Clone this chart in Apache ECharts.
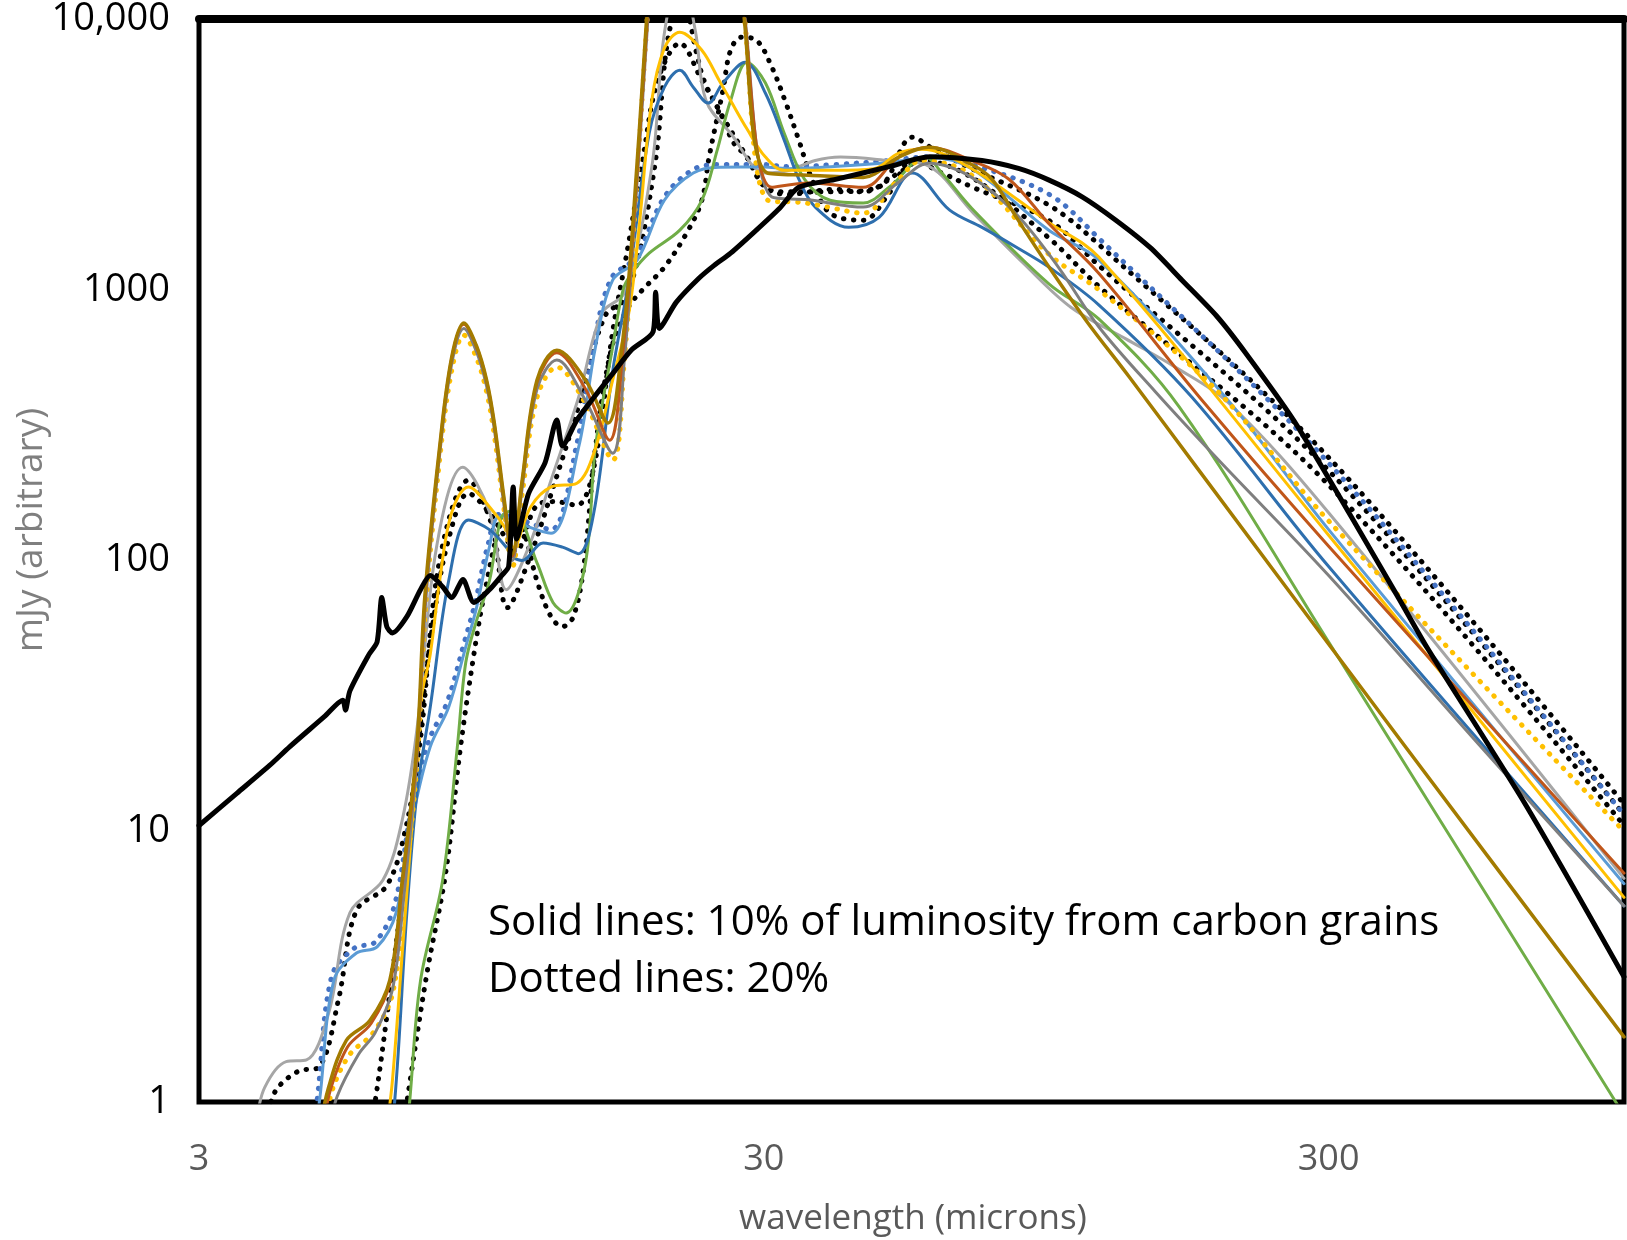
<!DOCTYPE html>
<html>
<head>
<meta charset="utf-8">
<title>Carbon grain SEDs</title>
<script src="https://cdn.jsdelivr.net/npm/echarts@6/dist/echarts.min.js"></script>
<style>
  html, body { margin: 0; padding: 0; background: #fff; }
  #chart { width: 1627px; height: 1240px; }
</style>
</head>
<body>
<div id="chart"></div>
<script>
// wavelength (microns) vs mJy
const xTickLabels = [3.0001, 30, 300];
const yTickLabels = ['1', '10', '100', '1000', '10,000'];

const blackSolid = [[3,10.5],[3.5,13.8],[4,17.5],[4.34,20.5],[5,26.5],[5.39,30.5],[5.45,28],[5.55,33],[6.0,45],[6.2,50],[6.32,73],[6.45,57],[6.6,54],[7.0,62],[7.4,78],[7.7,88],[8.1,80],[8.4,73],[8.8,85],[9.2,70],[9.8,78],[10.3,88],[10.6,95],[10.8,187],[10.95,120],[11.5,177],[12.3,230],[12.9,330],[13.2,265],[14,330],[15,400],[16.2,490],[17.5,600],[19.1,700],[19.3,980],[19.6,720],[21,900],[23,1100],[24.5,1230],[26.2,1365],[29,1650],[32,2000],[34.6,2390],[40,2550],[50,2850],[59,3100],[73,3000],[85,2800],[96,2540],[110,2200],[126,1807],[145,1430],[165,1085],[190,800],[214,583],[260,330],[329,145],[400,72],[450,47],[670,12.5],[1000,2.9]];

const oliveSolid = [[4.92,0.8],[5.08,1.12],[5.47,1.69],[6.02,2.0],[6.53,2.82],[6.87,6.6],[7.29,20.5],[7.53,73],[8.0,262],[8.4,560],[8.83,753],[9.3,620],[9.69,464],[10.0,322],[10.4,171],[10.77,106],[11.2,198],[11.9,464],[12.9,598],[14.5,464],[15.9,322],[16.8,600],[17.5,1500],[18.6,10000],[19.5,40000],[26.5,40000],[27.7,10000],[30.4,2700],[36,2650],[45,2600],[52,3090],[58.8,3360],[70,2900],[76,2560],[84,1850],[96,1211],[112,762],[133,477],[176,218],[400,22],[1000,1.74]];

const darkGraySolid = [[5.12,0.8],[5.27,1.05],[5.75,1.5],[6.15,1.8],[6.6,2.6],[6.9,5.5],[7.3,19],[7.55,68],[8.0,245],[8.4,530],[8.83,720],[9.3,590],[9.69,440],[10.0,305],[10.4,160],[10.77,100],[11.2,185],[11.9,430],[12.9,550],[14.5,390],[16.2,249],[17.0,560],[17.6,1500],[18.7,10000],[19.5,40000],[26.5,40000],[27.8,10000],[31,2200],[36,2150],[45,2020],[52,2500],[58.8,2930],[70,2600],[84,1900],[100,1200],[117.5,730],[148,420],[191.5,235],[300,88],[558,20.5],[1000,5.3]];

const brownSolid = [[4.98,0.8],[5.12,1.1],[5.5,1.6],[6.05,1.95],[6.55,2.8],[6.88,6.5],[7.3,20],[7.54,72],[8.0,258],[8.4,555],[8.83,745],[9.3,615],[9.69,460],[10.0,318],[10.4,168],[10.77,104],[11.2,195],[11.9,455],[12.9,585],[14.5,430],[16.0,278],[16.9,600],[17.55,1500],[18.65,10000],[19.5,40000],[26.5,40000],[27.75,10000],[31,2390],[36,2480],[45,2390],[52,3090],[58.8,3360],[70,3000],[81.5,2560],[96,1750],[117.5,1150],[179,391],[300,113],[1000,7.0]];

const yellowDotted = [[5.02,0.8],[5.16,1.1],[5.55,1.5],[6.1,1.8],[6.6,2.5],[6.9,5.5],[7.3,18],[7.55,65],[8.0,235],[8.4,500],[8.83,680],[9.3,560],[9.69,420],[10.0,290],[10.4,155],[10.77,95],[11.2,175],[11.9,400],[12.9,518],[14.5,380],[16.2,235],[17.0,560],[17.6,1500],[18.65,10000],[19.5,40000],[26.5,40000],[27.75,10000],[30.5,2140],[35,2100],[39,2018],[45,1918],[52,2560],[57,3000],[70,2650],[96,1350],[117.5,1000],[189,430],[300,140],[1000,10]];

const lightGraySolid = [[3.8,0.85],[3.92,1.13],[4.28,1.41],[4.65,1.43],[5.09,2.13],[5.55,5.0],[6.35,6.6],[6.87,11],[7.29,23.6],[7.9,112],[8.79,221],[9.82,150],[10.5,78],[11.5,112],[12.6,198],[14.1,401],[15.5,820],[17,977],[19,2837],[20,8870],[21.4,15000],[22.7,9000],[23.7,5000],[26.2,3786],[30.2,2700],[33,2750],[37,3000],[41,3090],[50,3000],[58,2900],[70.5,1918],[86.5,1250],[105,860],[131,660],[160,520],[200,380],[300,150],[1000,6.7]];

const yellowSolid = [[6.45,0.8],[6.6,1.2],[6.9,4],[7.2,13],[7.4,30],[7.7,45],[8.0,84],[8.4,150],[9.0,187],[9.8,158],[10.5,130],[10.8,112],[11.6,158],[12.6,187],[14,193],[15,249],[16.2,464],[17.3,820],[18,1620],[19,5000],[20,7800],[21.3,8940],[23.3,7670],[25,5940],[26.2,5000],[28,3930],[30.2,3090],[32.6,2760],[40,2760],[47,2800],[52,3195],[57,3300],[70,2800],[96,1770],[117.5,1320],[300,124],[1000,5.7]];

const darkBlueSolid = [[6.5,0.8],[6.66,1.0],[7.0,5],[7.3,14],[7.7,28.7],[8.3,84],[9.0,141],[9.8,130],[10.5,112],[10.8,103],[11.2,100],[12.2,116],[13.2,112],[14.1,106],[15,150],[16.2,500],[17.3,1085],[18.8,3786],[20,5600],[21.3,6470],[22.5,5600],[23.9,4890],[25.4,5800],[27.8,6920],[30.2,5320],[32.6,3570],[34.6,2560],[37,2018],[42.4,1700],[48,1850],[55,2700],[64,1968],[73,1700],[84,1436],[96,1211],[117.5,880],[172,400],[300,95],[1000,5.3]];

const lightBlueSolid = [[4.8,0.8],[4.9,1.0],[5.2,2.82],[5.7,3.55],[6.2,3.74],[6.7,5.0],[7.2,11.7],[7.7,20.5],[8.3,28.7],[8.9,48],[9.3,67],[9.8,112],[10.2,145],[11.0,140],[11.5,133],[12.6,126],[14.1,262],[15.1,614],[16.2,1085],[17.9,1285],[20,2140],[22.5,2700],[25,2837],[30,2840],[33,2800],[40,2850],[50,2950],[59,3080],[70,2800],[96,1655],[117.5,1290],[199,391],[300,130],[1000,6.4]];

const blueDotted = [[4.75,0.8],[4.85,1.0],[5.15,2.9],[5.65,3.7],[6.15,3.9],[6.65,5.3],[7.15,12.5],[7.65,21.5],[8.25,30],[8.85,50],[9.25,70],[9.75,115],[10.2,148],[11.0,143],[11.5,138],[12.6,130],[14.0,270],[15.0,630],[16.1,1100],[17.8,1320],[20,2200],[22.5,2780],[25,2900],[30,2900],[33,2850],[40,2900],[50,3000],[59,3100],[70,2900],[96,2250],[117.5,1550],[300,229],[1000,11.5]];

const greenSolid = [[7.0,0.8],[7.08,1.0],[7.4,2.8],[8.1,6.6],[8.6,20.5],[8.9,42],[9.3,60],[9.8,84],[10.3,145],[10.8,153],[11.9,98],[12.7,70],[13.4,64],[14.5,98],[15.1,262],[16.2,614],[16.9,1000],[17.5,1150],[18.8,1365],[21.3,1660],[23.3,2140],[24.8,3270],[26.2,5000],[28,6920],[30.2,5800],[32.6,3786],[35.4,2560],[39.3,2140],[45,2090],[50,2390],[58,3090],[62,2700],[70,2000],[96,1050],[117.5,780],[163,370],[300,50],[967,1],[1000,0.9]];

const blackDotted1 = [[3.95,0.85],[4.1,1.1],[4.5,1.3],[4.9,1.35],[5.3,2.4],[5.7,5.1],[6.45,6.3],[6.95,10],[7.4,22],[8.0,100],[9.0,198],[9.9,135],[10.55,67],[11.5,100],[12.7,185],[14.2,390],[15.7,800],[17.2,950],[19.2,2800],[20.3,8500],[21.5,12000],[22.8,7500],[23.5,5940],[25,4600],[28,3090],[30.2,2390],[33,2300],[40,2300],[48,2400],[55,3660],[60,3300],[70,2800],[96,2050],[117.5,1470],[300,240],[1000,12.6]];

const blackDotted2 = [[6.9,0.8],[7.05,1.1],[7.6,3],[8.2,7],[8.7,20],[9.2,45],[9.6,75],[10.3,140],[10.8,150],[11.3,126],[11.9,84],[12.6,62],[13.2,57],[13.8,62],[14.4,95],[15.1,260],[16.1,600],[17.2,850],[18.3,1000],[20,1211],[21.9,1620],[23.3,2140],[24,3090],[25.4,5460],[26.2,7670],[27.4,8570],[29.2,8300],[31,6640],[32.7,5000],[34.6,3568],[36.5,2560],[39.3,1918],[45,1807],[50,2274],[55,3000],[62,2700],[70,2400],[96,1800],[117.5,1230],[300,215],[1000,11.5]];

const blackDotted3 = [[6.0,0.8],[6.15,1.0],[6.6,3],[7.0,8],[7.4,25],[7.8,60],[8.3,120],[9.0,177],[9.8,150],[10.5,120],[10.9,108],[11.9,160],[12.8,165],[14.0,160],[15.0,220],[16.2,700],[17.3,1500],[18.3,3000],[19.5,6000],[21.3,8130],[23.3,5940],[25,4600],[26.5,3500],[28,3090],[30.2,2390],[33,2250],[40,2350],[45,2300],[52,2700],[57,3000],[70,2600],[96,1550],[117.5,1030],[300,190],[1000,10.5]];

const chart = echarts.init(document.getElementById('chart'));

function solid(name, data, color, width, smooth) {
  return {
    name, type: 'line', data, smooth: smooth || 0.35, symbol: 'none', silent: true,
    lineStyle: { color, width, cap: 'round', join: 'round' }
  };
}

function dotted(name, data, color) {
  return {
    name, type: 'line', data, smooth: 0.35, symbol: 'none', silent: true,
    lineStyle: { color, width: 5, type: [0.5, 9.5], cap: 'round' }
  };
}

const option = {
  animation: false,
  backgroundColor: '#fff',
  grid: {
    left: 199, right: 3, top: 19, bottom: 138,
    show: true, borderColor: '#000', borderWidth: 5, backgroundColor: '#fff'
  },
  xAxis: [
    {
      type: 'log', logBase: 10, min: 3, max: 1000,
      axisLine: { show: false }, axisTick: { show: false }, splitLine: { show: false },
      axisLabel: {
        customValues: xTickLabels,
        formatter: (v) => String(Math.round(v)),
        color: '#595959', fontSize: 36, fontFamily: 'Open Sans', margin: 40
      }
    },
    {
      type: 'value', position: 'top', min: 0, max: 1,
      axisLine: { show: true, lineStyle: { color: '#000', width: 8 } },
      axisTick: { show: false }, axisLabel: { show: false }, splitLine: { show: false }
    }
  ],
  yAxis: {
    type: 'log', logBase: 10, min: 1, max: 10000,
    axisLine: { show: false }, axisTick: { show: false }, splitLine: { show: false },
    axisLabel: {
      formatter: (v) => yTickLabels[Math.round(Math.log10(v))],
      color: '#000', fontSize: 38, fontFamily: 'Open Sans', margin: 29
    }
  },
  graphic: [
    {
      type: 'text', x: 31, y: 530, rotation: Math.PI / 2,
      style: { text: 'mJy (arbitrary)', fill: '#7F7F7F', font: '37px "Open Sans"', textAlign: 'center', textVerticalAlign: 'middle' }
    },
    {
      type: 'text', x: 913, y: 1219,
      style: { text: 'wavelength (microns)', fill: '#595959', font: '35px "Open Sans"', textAlign: 'center', textVerticalAlign: 'middle' }
    },
    {
      type: 'text', x: 488, y: 923, z: 100,
      style: { text: 'Solid lines: 10% of luminosity from carbon grains', fill: '#000', font: '42px "Open Sans"', textAlign: 'left', textVerticalAlign: 'middle' }
    },
    {
      type: 'text', x: 488, y: 980, z: 100,
      style: { text: 'Dotted lines: 20%', fill: '#000', font: '42px "Open Sans"', textAlign: 'left', textVerticalAlign: 'middle' }
    }
  ],
  series: [
    dotted('blackDotted1', blackDotted1, '#000'),
    dotted('blackDotted2', blackDotted2, '#000'),
    dotted('blackDotted3', blackDotted3, '#000'),
    dotted('blueDotted', blueDotted, '#4472C4'),
    solid('lightGray', lightGraySolid, '#A6A6A6', 3),
    solid('lightBlue', lightBlueSolid, '#5B9BD5', 3),
    solid('green', greenSolid, '#70AD47', 3),
    solid('darkBlue', darkBlueSolid, '#2E6FAE', 3),
    solid('yellow', yellowSolid, '#FFC000', 3),
    dotted('yellowDotted', yellowDotted, '#FFC000'),
    solid('darkGray', darkGraySolid, '#7F7F7F', 3),
    solid('brown', brownSolid, '#C0561A', 3),
    solid('olive', oliveSolid, '#A37B00', 3.5),
    solid('black', blackSolid, '#000', 5, 0.25)
  ]
};

chart.setOption(option);
</script>
</body>
</html>
